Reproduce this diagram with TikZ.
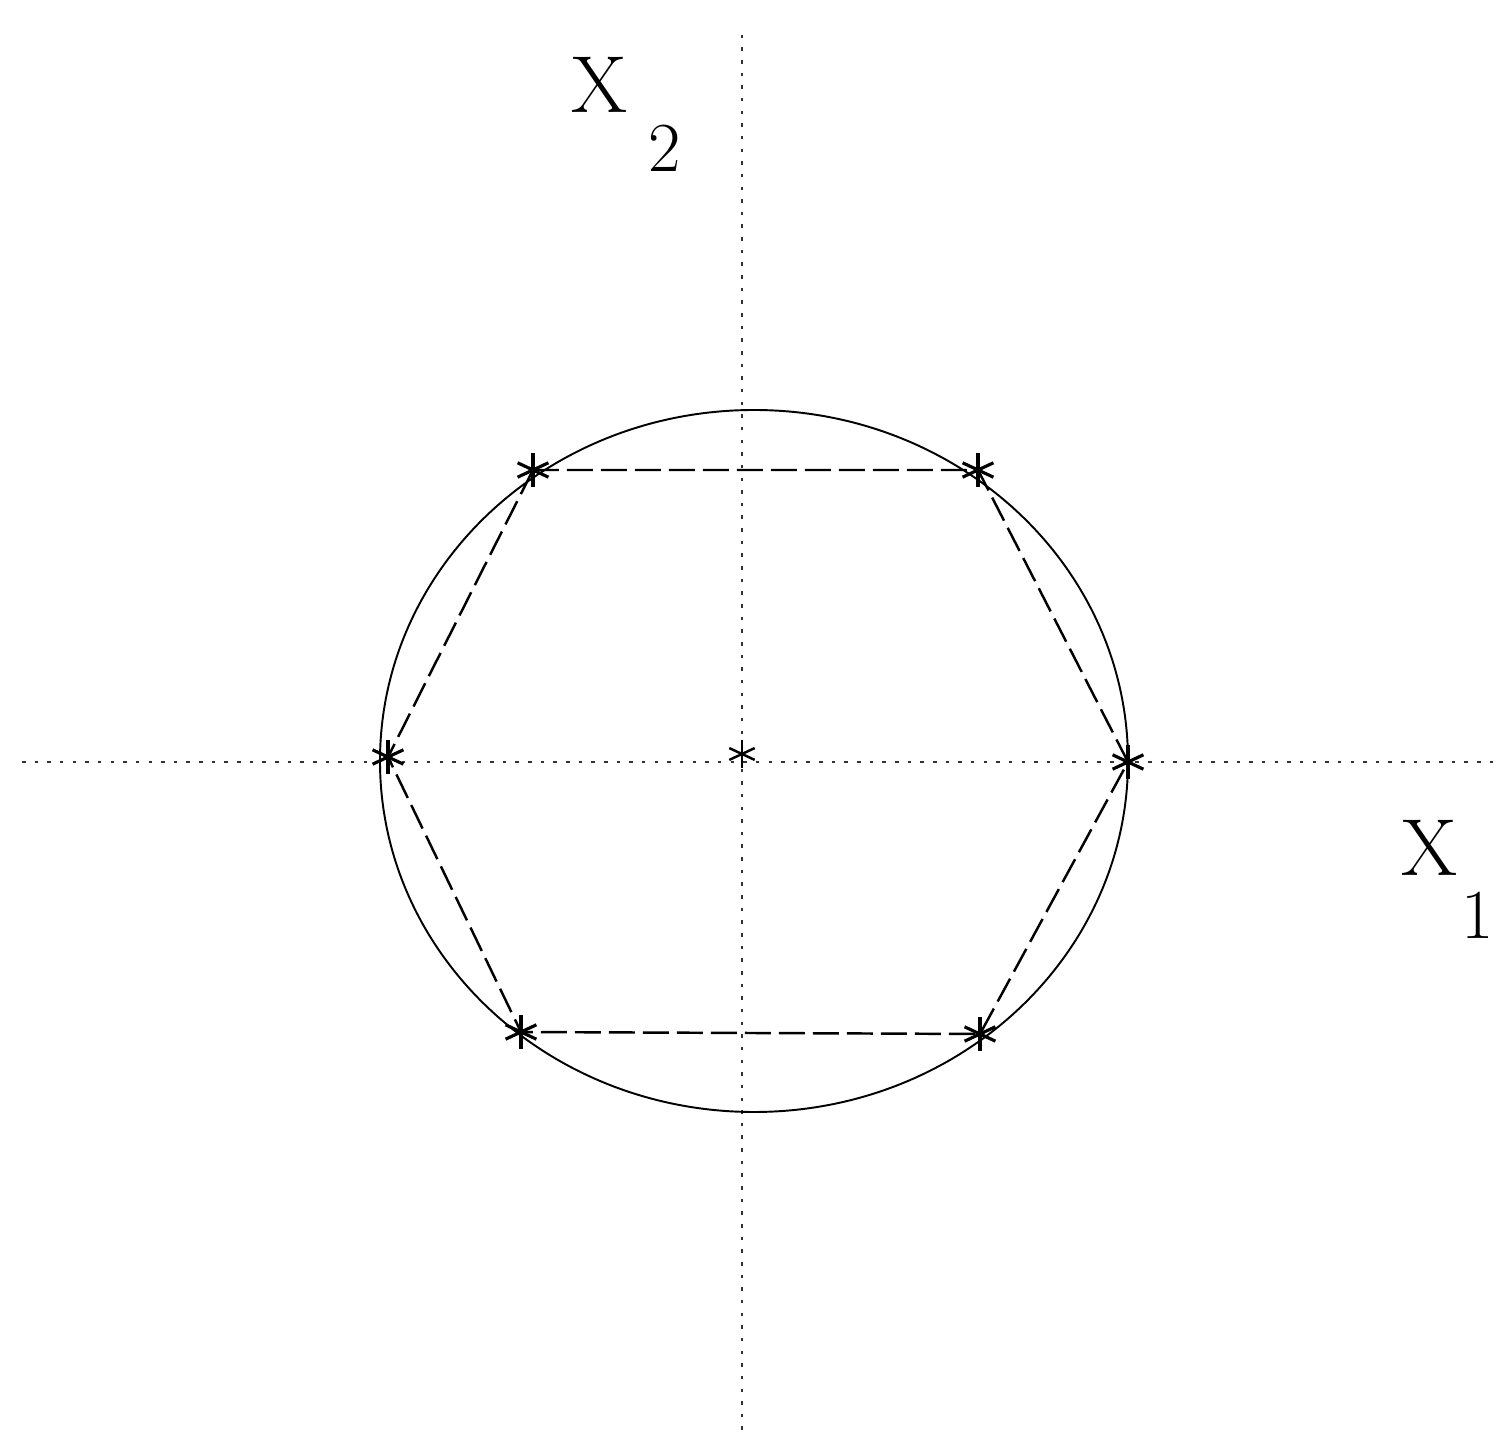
\documentclass[tikz,border=0pt]{standalone}
\usepackage{tikz}
\usetikzlibrary{calc}

\tikzset{
  axisline/.style={line width=0.6pt, dash pattern=on 1pt off 2.6pt, black!80},
  hexedge/.style={line width=0.7pt, dash pattern=on 0.26cm off 0.08cm},
  circline/.style={line width=0.55pt},
  lbl/.style={font=\fontsize{23}{26}\selectfont, inner sep=0pt},
  sublbl/.style={font=\fontsize{20}{24}\selectfont, inner sep=0pt}
}

\begin{document}
\begin{tikzpicture}[x=1cm,y=1cm]
\useasboundingbox (-7.42,-6.76) rectangle (7.56,7.62);
% axes
\coordinate (xl) at (-7.2,0);
\coordinate (xr) at (7.56,0);
\coordinate (yb) at (0,-6.68);
\coordinate (yt) at (0,7.34);
\draw[axisline] (xl) -- (xr);
\draw[axisline] (yb) -- (yt);
\node[lbl] (xonelab) at (6.88,-0.86) {X};
\node[sublbl] (xonesub) at (7.36,-1.53) {1};
\node[lbl] (xtwolab) at (-1.42,6.77) {X};
\node[sublbl] (xtwosub) at (-0.77,6.14) {2};

% circle
\draw[circline] (0.12,0.01) ellipse [x radius=3.74, y radius=3.51];

% hexagon corners
\coordinate (pa) at (-2.09,2.92);
\coordinate (pb) at (2.36,2.92);
\coordinate (pc) at (3.86,0);
\coordinate (pd) at (2.38,-2.72);
\coordinate (pe) at (-2.21,-2.70);
\coordinate (pf) at (-3.54,0.05);
\coordinate (po) at (0,0.08);
\draw[hexedge] (pa) -- (pb) -- (pc) -- (pd) -- (pe) -- (pf) -- cycle;

% star marks
\foreach \p in {pa,pb,pc,pd,pe,pf} {
  \foreach \a in {25,90,155} {
    \draw[line width=0.9pt] ($(\p)+(\a:0.17)$) -- ($(\p)+(\a+180:0.17)$);
  }
}
\foreach \a in {25,90,155} {
  \draw[line width=0.7pt] ($(po)+(\a:0.14)$) -- ($(po)+(\a+180:0.14)$);
}
\end{tikzpicture}
\end{document}
